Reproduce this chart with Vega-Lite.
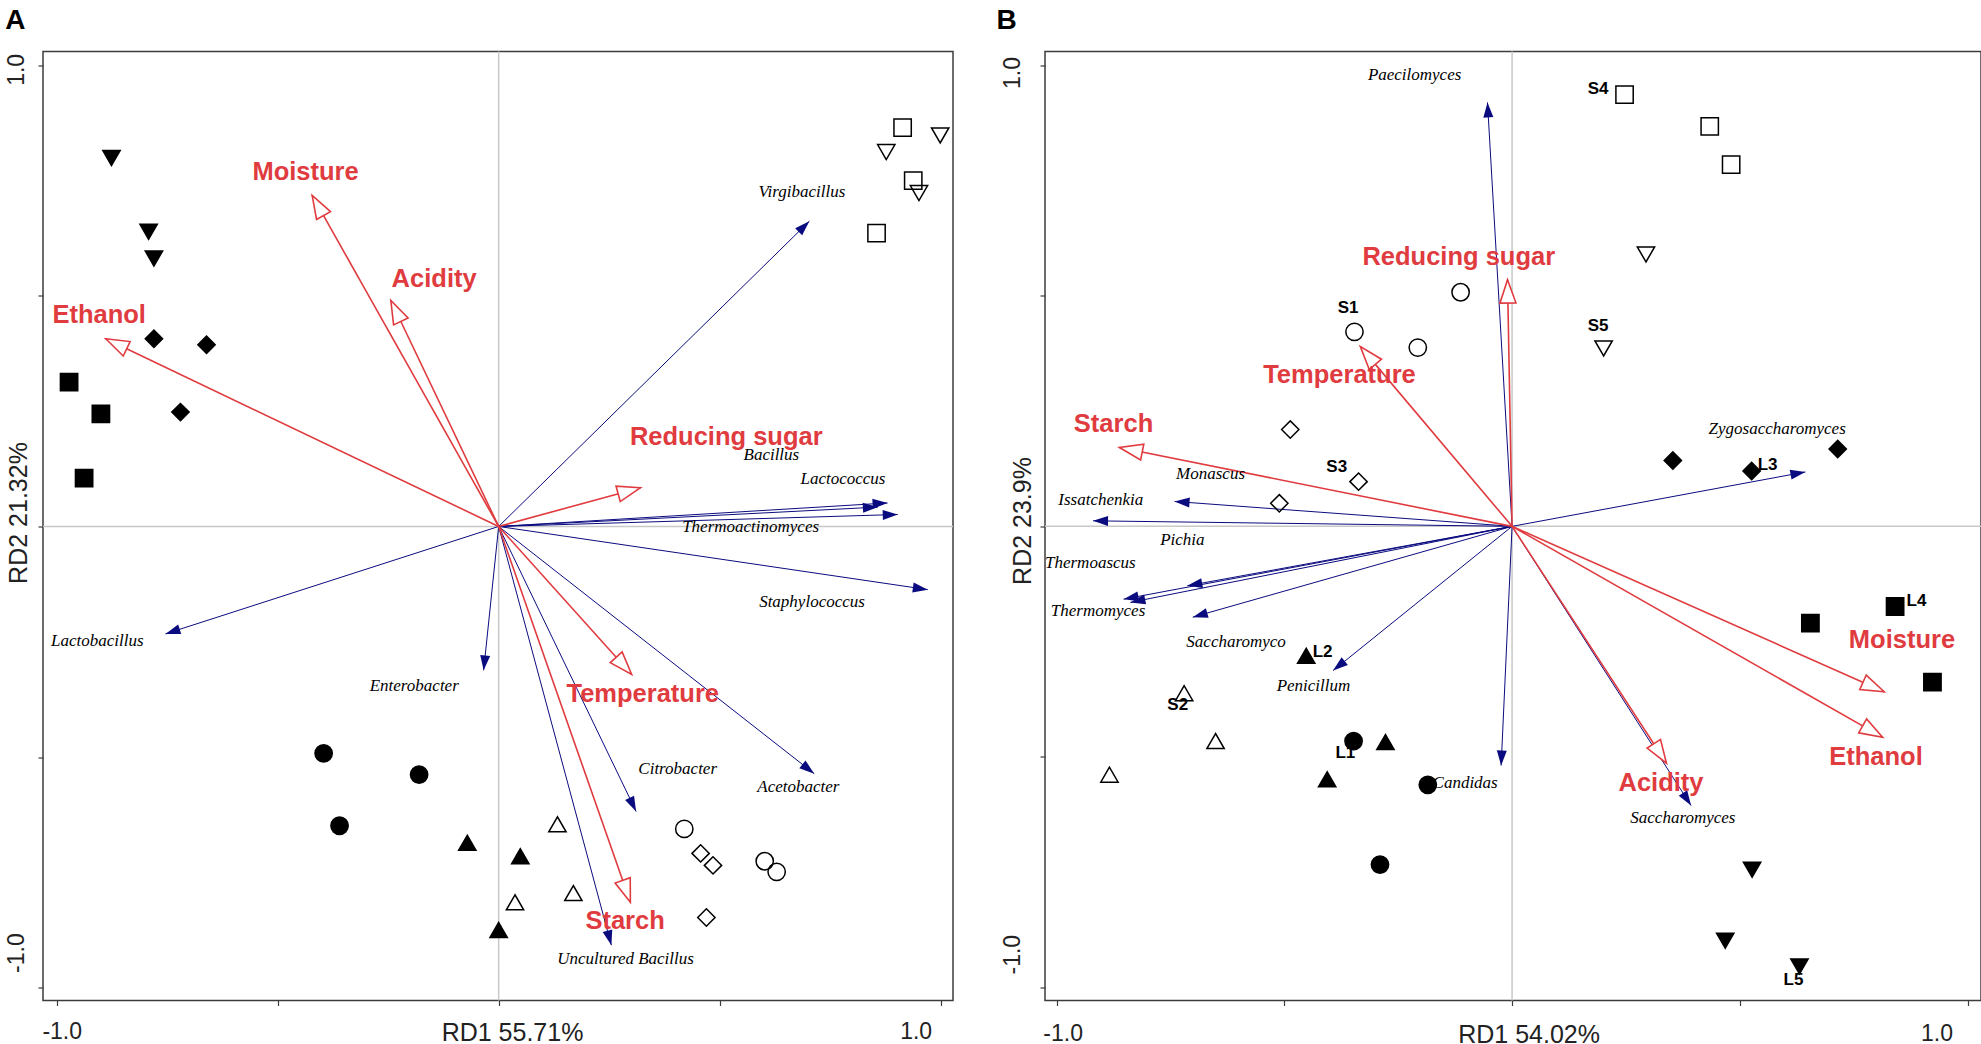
{
  "$schema": "https://vega.github.io/schema/vega-lite/v6.json",
  "background": "white",
  "padding": {"left": 4, "top": 5.5, "right": 4, "bottom": 0},
  "spacing": 40,
  "config": {
    "view": {"stroke": "#3c3c3c", "strokeWidth": 1.5},
    "font": "Liberation Sans",
    "axis": {"domain": false, "grid": false, "ticks": true, "tickColor": "#3c3c3c", "tickSize": 5, "tickWidth": 1.2, "labelColor": "#222222", "titleColor": "#222222", "labelFont": "Liberation Sans", "titleFont": "Liberation Sans", "labelFontSize": 23, "titleFontSize": 25, "titleFontWeight": "normal", "labelOverlap": false, "labelFlush": false}
  },
  "datasets": {
    "spA": [
      {"name": "Virgibacillus", "x": 0.703, "y": 0.662, "lx": 0.686, "ly": 0.726},
      {"name": "Bacillus", "x": 0.858, "y": 0.042, "lx": 0.617, "ly": 0.155},
      {"name": "Lactococcus", "x": 0.880, "y": 0.051, "lx": 0.779, "ly": 0.104},
      {"name": "Thermoactinomyces", "x": 0.903, "y": 0.026, "lx": 0.570, "ly": -0.001},
      {"name": "Staphylococcus", "x": 0.971, "y": -0.137, "lx": 0.709, "ly": -0.164},
      {"name": "Acetobacter", "x": 0.714, "y": -0.536, "lx": 0.678, "ly": -0.565},
      {"name": "Citrobacter", "x": 0.311, "y": -0.618, "lx": 0.405, "ly": -0.526},
      {"name": "Uncultured Bacillus", "x": 0.255, "y": -0.908, "lx": 0.287, "ly": -0.937},
      {"name": "Enterobacter", "x": -0.034, "y": -0.312, "lx": -0.191, "ly": -0.345},
      {"name": "Lactobacillus", "x": -0.754, "y": -0.233, "lx": -0.908, "ly": -0.249}
    ],
    "envA": [
      {"name": "Ethanol", "x": -0.889, "y": 0.407, "lx": -0.904, "ly": 0.459},
      {"name": "Moisture", "x": -0.422, "y": 0.718, "lx": -0.437, "ly": 0.769},
      {"name": "Acidity", "x": -0.244, "y": 0.490, "lx": -0.146, "ly": 0.537},
      {"name": "Reducing sugar", "x": 0.321, "y": 0.084, "lx": 0.515, "ly": 0.195},
      {"name": "Temperature", "x": 0.301, "y": -0.321, "lx": 0.326, "ly": -0.363},
      {"name": "Starch", "x": 0.298, "y": -0.815, "lx": 0.286, "ly": -0.855}
    ],
    "smpA": [
      {"group": "L5", "x": -0.876, "y": 0.799}, {"group": "L5", "x": -0.792, "y": 0.639}, {"group": "L5", "x": -0.780, "y": 0.581},
      {"group": "L3", "x": -0.780, "y": 0.407}, {"group": "L3", "x": -0.661, "y": 0.394}, {"group": "L3", "x": -0.720, "y": 0.248},
      {"group": "L4", "x": -0.972, "y": 0.313}, {"group": "L4", "x": -0.900, "y": 0.244}, {"group": "L4", "x": -0.938, "y": 0.105},
      {"group": "L1", "x": -0.396, "y": -0.492}, {"group": "L1", "x": -0.180, "y": -0.538}, {"group": "L1", "x": -0.360, "y": -0.649},
      {"group": "L2", "x": -0.071, "y": -0.686}, {"group": "L2", "x": 0.049, "y": -0.715}, {"group": "L2", "x": 0.000, "y": -0.875},
      {"group": "S2", "x": 0.133, "y": -0.646}, {"group": "S2", "x": 0.037, "y": -0.815}, {"group": "S2", "x": 0.169, "y": -0.795},
      {"group": "S1", "x": 0.420, "y": -0.656}, {"group": "S1", "x": 0.602, "y": -0.726}, {"group": "S1", "x": 0.629, "y": -0.749},
      {"group": "S3", "x": 0.457, "y": -0.709}, {"group": "S3", "x": 0.485, "y": -0.735}, {"group": "S3", "x": 0.470, "y": -0.848},
      {"group": "S4", "x": 0.914, "y": 0.865}, {"group": "S4", "x": 0.938, "y": 0.750}, {"group": "S4", "x": 0.855, "y": 0.636},
      {"group": "S5", "x": 0.877, "y": 0.812}, {"group": "S5", "x": 0.999, "y": 0.848}, {"group": "S5", "x": 0.951, "y": 0.723}
    ],
    "spB": [
      {"name": "Paecilomyces", "x": -0.054, "y": 0.920, "lx": -0.214, "ly": 0.980},
      {"name": "Monascus", "x": -0.741, "y": 0.054, "lx": -0.662, "ly": 0.114},
      {"name": "Issatchenkia", "x": -0.920, "y": 0.012, "lx": -0.903, "ly": 0.057},
      {"name": "Pichia", "x": -0.713, "y": -0.129, "lx": -0.724, "ly": -0.030},
      {"name": "Thermoascus", "x": -0.853, "y": -0.158, "lx": -0.926, "ly": -0.080},
      {"name": "Thermomyces", "x": -0.838, "y": -0.165, "lx": -0.909, "ly": -0.183},
      {"name": "Saccharomyco", "x": -0.701, "y": -0.197, "lx": -0.606, "ly": -0.252},
      {"name": "Penicillum", "x": -0.393, "y": -0.313, "lx": -0.436, "ly": -0.347},
      {"name": "Candidas", "x": -0.024, "y": -0.519, "lx": -0.103, "ly": -0.558},
      {"name": "Saccharomyces", "x": 0.393, "y": -0.606, "lx": 0.375, "ly": -0.633},
      {"name": "Zygosaccharomyces", "x": 0.644, "y": 0.118, "lx": 0.582, "ly": 0.211}
    ],
    "envB": [
      {"name": "Moisture", "x": 0.817, "y": -0.359, "lx": 0.856, "ly": -0.246},
      {"name": "Ethanol", "x": 0.814, "y": -0.458, "lx": 0.799, "ly": -0.500},
      {"name": "Acidity", "x": 0.339, "y": -0.514, "lx": 0.327, "ly": -0.557},
      {"name": "Reducing sugar", "x": -0.010, "y": 0.535, "lx": -0.117, "ly": 0.584},
      {"name": "Temperature", "x": -0.333, "y": 0.390, "lx": -0.379, "ly": 0.328},
      {"name": "Starch", "x": -0.862, "y": 0.171, "lx": -0.875, "ly": 0.223}
    ],
    "smpB": [
      {"group": "S1", "x": -0.113, "y": 0.508}, {"group": "S1", "x": -0.346, "y": 0.422}, {"group": "S1", "x": -0.207, "y": 0.388},
      {"group": "S3", "x": -0.487, "y": 0.210}, {"group": "S3", "x": -0.337, "y": 0.097}, {"group": "S3", "x": -0.511, "y": 0.050},
      {"group": "S2", "x": -0.720, "y": -0.362}, {"group": "S2", "x": -0.651, "y": -0.466}, {"group": "S2", "x": -0.884, "y": -0.539},
      {"group": "S4", "x": 0.247, "y": 0.937}, {"group": "S4", "x": 0.434, "y": 0.868}, {"group": "S4", "x": 0.481, "y": 0.785},
      {"group": "S5", "x": 0.294, "y": 0.590}, {"group": "S5", "x": 0.201, "y": 0.386},
      {"group": "L1", "x": -0.348, "y": -0.466}, {"group": "L1", "x": -0.185, "y": -0.561}, {"group": "L1", "x": -0.290, "y": -0.734},
      {"group": "L2", "x": -0.452, "y": -0.281}, {"group": "L2", "x": -0.278, "y": -0.468}, {"group": "L2", "x": -0.406, "y": -0.549},
      {"group": "L3", "x": 0.353, "y": 0.143}, {"group": "L3", "x": 0.526, "y": 0.120}, {"group": "L3", "x": 0.715, "y": 0.168},
      {"group": "L4", "x": 0.655, "y": -0.210}, {"group": "L4", "x": 0.841, "y": -0.174}, {"group": "L4", "x": 0.923, "y": -0.338},
      {"group": "L5", "x": 0.527, "y": -0.745}, {"group": "L5", "x": 0.468, "y": -0.899}, {"group": "L5", "x": 0.631, "y": -0.955}
    ],
    "labB": [
      {"name": "S1", "lx": -0.360, "ly": 0.474},
      {"name": "S3", "lx": -0.385, "ly": 0.128},
      {"name": "L2", "lx": -0.416, "ly": -0.272},
      {"name": "S2", "lx": -0.734, "ly": -0.387},
      {"name": "L1", "lx": -0.366, "ly": -0.491},
      {"name": "S4", "lx": 0.189, "ly": 0.948},
      {"name": "S5", "lx": 0.189, "ly": 0.435},
      {"name": "L3", "lx": 0.561, "ly": 0.133},
      {"name": "L4", "lx": 0.888, "ly": -0.163},
      {"name": "L5", "lx": 0.618, "ly": -0.985}
    ]
  },
  "hconcat": [
    {
      "width": 910,
      "height": 949,
      "title": {"text": "A", "anchor": "start", "frame": "group", "dx": -37.7, "offset": -6, "baseline": "alphabetic", "fontSize": 28, "fontWeight": "bold", "font": "Liberation Sans", "color": "black"},
      "layer": [
        {
          "data": {"name": "smpA"},
          "mark": {"type": "point", "opacity": 0},
          "encoding": {
            "x": {"field": "x", "type": "quantitative", "scale": {"domain": [-1.031, 1.028], "nice": false, "zero": false},
              "axis": {"orient": "bottom", "values": [-1, -0.5, 0, 0.5, 1], "labelExpr": "datum.value == 1 ? '1.0' : datum.value == -1 ? '-1.0' : ''", "labelBaseline": "alphabetic", "labelAlign": "center", "labelPadding": 33.3,
                "labelOffset": {"condition": {"test": "datum.value == 1", "value": -25}, "value": 5},
                "title": "RD1 55.71%", "titleX": 469, "titleY": 40.3, "titleAlign": "center", "titleBaseline": "alphabetic"}},
            "y": {"field": "y", "type": "quantitative", "scale": {"domain": [-1.028, 1.030], "nice": false, "zero": false},
              "axis": {"orient": "left", "values": [-1, -0.5, 0, 0.5, 1], "labelExpr": "datum.value == 1 ? '1.0' : datum.value == -1 ? '-1.0' : ''", "labelAngle": 270, "labelBaseline": "alphabetic", "labelAlign": "center", "labelPadding": 14.3,
                "labelOffset": {"condition": {"test": "datum.value == 1", "value": 4}, "value": -35},
                "title": "RD2 21.32%", "titleAngle": 270, "titleX": -16.7, "titleY": 461, "titleAlign": "center", "titleBaseline": "alphabetic"}}
          }
        },
        {
          "data": {"values": [{}]},
          "mark": {"type": "rule", "color": "#c8c8c8", "strokeWidth": 1.5},
          "encoding": {
            "x": {"datum": 0, "type": "quantitative", "scale": {"domain": [-1.031, 1.028], "nice": false, "zero": false}}
          }
        },
        {
          "data": {"values": [{}]},
          "mark": {"type": "rule", "color": "#c8c8c8", "strokeWidth": 1.5},
          "encoding": {
            "y": {"datum": 0, "type": "quantitative", "scale": {"domain": [-1.028, 1.030], "nice": false, "zero": false}}
          }
        },
        {
          "data": {"name": "spA"},
          "mark": {"type": "rule", "color": "#0b0b80", "strokeWidth": 1},
          "encoding": {
            "x": {"field": "x", "type": "quantitative", "scale": {"domain": [-1.031, 1.028], "nice": false, "zero": false}},
            "y": {"field": "y", "type": "quantitative", "scale": {"domain": [-1.028, 1.030], "nice": false, "zero": false}},
            "x2": {"datum": 0},
            "y2": {"datum": 0}
          }
        },
        {
          "data": {"name": "envA"},
          "mark": {"type": "rule", "color": "#e03b3f", "strokeWidth": 1.6},
          "encoding": {
            "x": {"field": "x", "type": "quantitative", "scale": {"domain": [-1.031, 1.028], "nice": false, "zero": false}},
            "y": {"field": "y", "type": "quantitative", "scale": {"domain": [-1.028, 1.030], "nice": false, "zero": false}},
            "x2": {"datum": 0},
            "y2": {"datum": 0}
          }
        },
        {
          "data": {"name": "spA"},
          "transform": [{"calculate": "atan2(datum.x * 442, datum.y * 461) * 180 / PI", "as": "ang"}],
          "mark": {"type": "point", "shape": "M0,0L-1,3L1,3Z", "filled": true, "color": "#0b0b80", "size": 100, "opacity": 1, "strokeWidth": 0},
          "encoding": {
            "x": {"field": "x", "type": "quantitative", "scale": {"domain": [-1.031, 1.028], "nice": false, "zero": false}},
            "y": {"field": "y", "type": "quantitative", "scale": {"domain": [-1.028, 1.030], "nice": false, "zero": false}},
            "angle": {"field": "ang", "type": "quantitative", "scale": null}
          }
        },
        {
          "data": {"name": "envA"},
          "transform": [{"calculate": "atan2(datum.x * 442, datum.y * 461) * 180 / PI", "as": "ang"}],
          "mark": {"type": "point", "shape": "M0,0L-1,2.9L1,2.9Z", "filled": true, "fill": "white", "stroke": "#e03b3f", "strokeWidth": 1.6, "size": 256, "opacity": 1},
          "encoding": {
            "x": {"field": "x", "type": "quantitative", "scale": {"domain": [-1.031, 1.028], "nice": false, "zero": false}},
            "y": {"field": "y", "type": "quantitative", "scale": {"domain": [-1.028, 1.030], "nice": false, "zero": false}},
            "angle": {"field": "ang", "type": "quantitative", "scale": null}
          }
        },
        {
          "data": {"name": "smpA"},
          "mark": {"type": "point", "filled": true, "stroke": "black", "strokeWidth": 1.5, "opacity": 1},
          "encoding": {
            "x": {"field": "x", "type": "quantitative", "scale": {"domain": [-1.031, 1.028], "nice": false, "zero": false}},
            "y": {"field": "y", "type": "quantitative", "scale": {"domain": [-1.028, 1.030], "nice": false, "zero": false}},
            "shape": {"field": "group", "type": "nominal", "legend": null, "scale": {"domain": ["S1", "S2", "S3", "S4", "S5", "L1", "L2", "L3", "L4", "L5"], "range": ["circle", "triangle-up", "diamond", "square", "triangle-down", "circle", "triangle-up", "diamond", "square", "triangle-down"]}},
            "fill": {"field": "group", "type": "nominal", "legend": null, "scale": {"domain": ["S1", "S2", "S3", "S4", "S5", "L1", "L2", "L3", "L4", "L5"], "range": ["transparent", "transparent", "transparent", "transparent", "transparent", "black", "black", "black", "black", "black"]}},
            "size": {"field": "group", "type": "ordinal", "legend": null, "scale": {"domain": ["S1", "S2", "S3", "S4", "S5", "L1", "L2", "L3", "L4", "L5"], "range": [300, 300, 300, 360, 300, 300, 300, 300, 360, 300]}}
          }
        },
        {
          "data": {"name": "spA"},
          "mark": {"type": "text", "font": "Liberation Serif", "fontStyle": "italic", "fontSize": 17, "color": "black", "baseline": "middle", "align": "center"},
          "encoding": {
            "x": {"field": "lx", "type": "quantitative", "scale": {"domain": [-1.031, 1.028], "nice": false, "zero": false}},
            "y": {"field": "ly", "type": "quantitative", "scale": {"domain": [-1.028, 1.030], "nice": false, "zero": false}},
            "text": {"field": "name", "type": "nominal"}
          }
        },
        {
          "data": {"name": "envA"},
          "mark": {"type": "text", "font": "Liberation Sans", "fontWeight": "bold", "fontSize": 25.5, "color": "#e03b3f", "baseline": "middle", "align": "center"},
          "encoding": {
            "x": {"field": "lx", "type": "quantitative", "scale": {"domain": [-1.031, 1.028], "nice": false, "zero": false}},
            "y": {"field": "ly", "type": "quantitative", "scale": {"domain": [-1.028, 1.030], "nice": false, "zero": false}},
            "text": {"field": "name", "type": "nominal"}
          }
        }
      ]
    },
    {
      "width": 936,
      "height": 949,
      "title": {"text": "B", "anchor": "start", "frame": "group", "dx": -48.6, "offset": -6, "baseline": "alphabetic", "fontSize": 28, "fontWeight": "bold", "font": "Liberation Sans", "color": "black"},
      "layer": [
        {
          "data": {"name": "smpB"},
          "mark": {"type": "point", "opacity": 0},
          "encoding": {
            "x": {"field": "x", "type": "quantitative", "scale": {"domain": [-1.0255, 1.0296], "nice": false, "zero": false},
              "axis": {"orient": "bottom", "values": [-1, -0.5, 0, 0.5, 1], "labelExpr": "datum.value == 1 ? '1.0' : datum.value == -1 ? '-1.0' : ''", "labelBaseline": "alphabetic", "labelAlign": "center", "labelPadding": 35,
                "labelOffset": {"condition": {"test": "datum.value == 1", "value": -31}, "value": 6},
                "title": "RD1 54.02%", "titleX": 483.6, "titleY": 41.7, "titleAlign": "center", "titleBaseline": "alphabetic"}},
            "y": {"field": "y", "type": "quantitative", "scale": {"domain": [-1.0289, 1.0304], "nice": false, "zero": false},
              "axis": {"orient": "left", "values": [-1, -0.5, 0, 0.5, 1], "labelExpr": "datum.value == 1 ? '1.0' : datum.value == -1 ? '-1.0' : ''", "labelAngle": 270, "labelBaseline": "alphabetic", "labelAlign": "center", "labelPadding": 20.9,
                "labelOffset": {"condition": {"test": "datum.value == 1", "value": 7}, "value": -33},
                "title": "RD2 23.9%", "titleAngle": 270, "titleX": -14.6, "titleY": 469, "titleAlign": "center", "titleBaseline": "alphabetic"}}
          }
        },
        {
          "data": {"values": [{}]},
          "mark": {"type": "rule", "color": "#c8c8c8", "strokeWidth": 1.5},
          "encoding": {
            "x": {"datum": 0, "type": "quantitative", "scale": {"domain": [-1.0255, 1.0296], "nice": false, "zero": false}}
          }
        },
        {
          "data": {"values": [{}]},
          "mark": {"type": "rule", "color": "#c8c8c8", "strokeWidth": 1.5},
          "encoding": {
            "y": {"datum": 0, "type": "quantitative", "scale": {"domain": [-1.0289, 1.0304], "nice": false, "zero": false}}
          }
        },
        {
          "data": {"name": "spB"},
          "mark": {"type": "rule", "color": "#0b0b80", "strokeWidth": 1},
          "encoding": {
            "x": {"field": "x", "type": "quantitative", "scale": {"domain": [-1.0255, 1.0296], "nice": false, "zero": false}},
            "y": {"field": "y", "type": "quantitative", "scale": {"domain": [-1.0289, 1.0304], "nice": false, "zero": false}},
            "x2": {"datum": 0},
            "y2": {"datum": 0}
          }
        },
        {
          "data": {"name": "envB"},
          "mark": {"type": "rule", "color": "#e03b3f", "strokeWidth": 1.6},
          "encoding": {
            "x": {"field": "x", "type": "quantitative", "scale": {"domain": [-1.0255, 1.0296], "nice": false, "zero": false}},
            "y": {"field": "y", "type": "quantitative", "scale": {"domain": [-1.0289, 1.0304], "nice": false, "zero": false}},
            "x2": {"datum": 0},
            "y2": {"datum": 0}
          }
        },
        {
          "data": {"name": "spB"},
          "transform": [{"calculate": "atan2(datum.x * 455, datum.y * 461) * 180 / PI", "as": "ang"}],
          "mark": {"type": "point", "shape": "M0,0L-1,3L1,3Z", "filled": true, "color": "#0b0b80", "size": 100, "opacity": 1, "strokeWidth": 0},
          "encoding": {
            "x": {"field": "x", "type": "quantitative", "scale": {"domain": [-1.0255, 1.0296], "nice": false, "zero": false}},
            "y": {"field": "y", "type": "quantitative", "scale": {"domain": [-1.0289, 1.0304], "nice": false, "zero": false}},
            "angle": {"field": "ang", "type": "quantitative", "scale": null}
          }
        },
        {
          "data": {"name": "envB"},
          "transform": [{"calculate": "atan2(datum.x * 455, datum.y * 461) * 180 / PI", "as": "ang"}],
          "mark": {"type": "point", "shape": "M0,0L-1,2.9L1,2.9Z", "filled": true, "fill": "white", "stroke": "#e03b3f", "strokeWidth": 1.6, "size": 256, "opacity": 1},
          "encoding": {
            "x": {"field": "x", "type": "quantitative", "scale": {"domain": [-1.0255, 1.0296], "nice": false, "zero": false}},
            "y": {"field": "y", "type": "quantitative", "scale": {"domain": [-1.0289, 1.0304], "nice": false, "zero": false}},
            "angle": {"field": "ang", "type": "quantitative", "scale": null}
          }
        },
        {
          "data": {"name": "smpB"},
          "mark": {"type": "point", "filled": true, "stroke": "black", "strokeWidth": 1.5, "opacity": 1},
          "encoding": {
            "x": {"field": "x", "type": "quantitative", "scale": {"domain": [-1.0255, 1.0296], "nice": false, "zero": false}},
            "y": {"field": "y", "type": "quantitative", "scale": {"domain": [-1.0289, 1.0304], "nice": false, "zero": false}},
            "shape": {"field": "group", "type": "nominal", "legend": null, "scale": {"domain": ["S1", "S2", "S3", "S4", "S5", "L1", "L2", "L3", "L4", "L5"], "range": ["circle", "triangle-up", "diamond", "square", "triangle-down", "circle", "triangle-up", "diamond", "square", "triangle-down"]}},
            "fill": {"field": "group", "type": "nominal", "legend": null, "scale": {"domain": ["S1", "S2", "S3", "S4", "S5", "L1", "L2", "L3", "L4", "L5"], "range": ["transparent", "transparent", "transparent", "transparent", "transparent", "black", "black", "black", "black", "black"]}},
            "size": {"field": "group", "type": "ordinal", "legend": null, "scale": {"domain": ["S1", "S2", "S3", "S4", "S5", "L1", "L2", "L3", "L4", "L5"], "range": [300, 300, 300, 370, 300, 300, 300, 300, 370, 300]}}
          }
        },
        {
          "data": {"name": "spB"},
          "mark": {"type": "text", "font": "Liberation Serif", "fontStyle": "italic", "fontSize": 17, "color": "black", "baseline": "middle", "align": "center"},
          "encoding": {
            "x": {"field": "lx", "type": "quantitative", "scale": {"domain": [-1.0255, 1.0296], "nice": false, "zero": false}},
            "y": {"field": "ly", "type": "quantitative", "scale": {"domain": [-1.0289, 1.0304], "nice": false, "zero": false}},
            "text": {"field": "name", "type": "nominal"}
          }
        },
        {
          "data": {"name": "envB"},
          "mark": {"type": "text", "font": "Liberation Sans", "fontWeight": "bold", "fontSize": 25.5, "color": "#e03b3f", "baseline": "middle", "align": "center"},
          "encoding": {
            "x": {"field": "lx", "type": "quantitative", "scale": {"domain": [-1.0255, 1.0296], "nice": false, "zero": false}},
            "y": {"field": "ly", "type": "quantitative", "scale": {"domain": [-1.0289, 1.0304], "nice": false, "zero": false}},
            "text": {"field": "name", "type": "nominal"}
          }
        },
        {
          "data": {"name": "labB"},
          "mark": {"type": "text", "font": "Liberation Sans", "fontWeight": "bold", "fontSize": 17, "color": "black", "baseline": "middle", "align": "center"},
          "encoding": {
            "x": {"field": "lx", "type": "quantitative", "scale": {"domain": [-1.0255, 1.0296], "nice": false, "zero": false}},
            "y": {"field": "ly", "type": "quantitative", "scale": {"domain": [-1.0289, 1.0304], "nice": false, "zero": false}},
            "text": {"field": "name", "type": "nominal"}
          }
        }
      ]
    }
  ]
}
